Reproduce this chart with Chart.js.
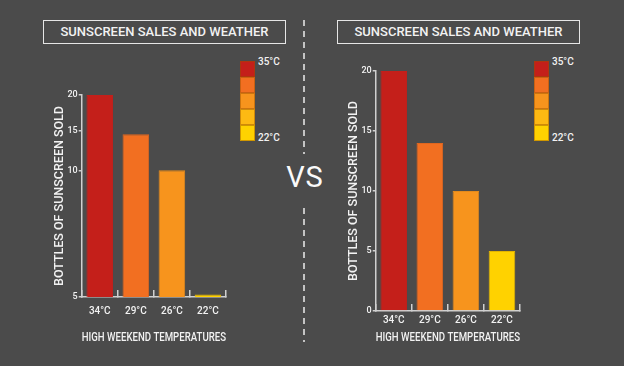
<!DOCTYPE html>
<html lang="en">
  <head>
    <meta charset="utf-8" />
    <title>Sunscreen sales and weather</title>
    <style>
      html, body { margin: 0; padding: 0; }
      body {
        width: 624px; height: 366px; overflow: hidden; position: relative;
        background: #4b4b4b; font-family: Roboto, "DejaVu Sans", sans-serif; color: #f2f2f2;
      }
      .box { position: absolute; }
      .title {
        position: absolute; top: 20px; width: 241px; height: 22px;
        border: 1.5px solid #e6e6e6; text-align: center; line-height: 22px;
        font-size: 13px; font-weight: 500;
      }
      .scale { position: absolute; width: 15px; }
      .scale div { box-sizing: border-box; height: 16px; border: 0.5px solid rgba(150, 80, 0, 0.45); }
      .scale span { position: absolute; left: 18px; font-size: 10px; font-weight: 500; }
      .dash { position: absolute; left: 303px; width: 2px;
        background: repeating-linear-gradient(#c4c4c4 0 6px, transparent 6px 11px); }
      .vs { position: absolute; left: 284px; top: 160px; width: 42px; text-align: center;
        font-size: 29px; letter-spacing: 1px; color: #fafafa; }
    </style>
  </head>
  <body>
    <div class="title" style="left: 43px">SUNSCREEN SALES AND WEATHER</div>
    <div class="title" style="left: 337px">SUNSCREEN SALES AND WEATHER</div>

    <div class="dash" style="top: 20px; height: 134px"></div>
    <div class="dash" style="top: 208px; height: 134px"></div>
    <div class="vs">VS</div>

    <div class="scale" id="scaleLeft" style="left: 240px; top: 61px"></div>
    <div class="scale" id="scaleRight" style="left: 534px; top: 61px"></div>

    <div class="box" style="left: 38px; top: 60px; width: 200px; height: 290px">
      <canvas id="left"></canvas>
    </div>
    <div class="box" style="left: 332px; top: 36px; width: 200px; height: 314px">
      <canvas id="right"></canvas>
    </div>

    <script src="https://cdn.jsdelivr.net/npm/chart.js"></script>

    <script>
      const temps = ["34°C", "29°C", "26°C", "22°C"];
      const salesLeft = [20, 14.6, 10, 5.1];
      const salesRight = [20, 14, 10, 5];
      const leftTicks = [5, 10, 15, 20];
      const rightTicks = [0, 5, 10, 15, 20];
      const barColors = ["#c41f1a", "#f26f21", "#f7941d", "#ffd200"];
      const barBorders = ["#c41f1a", "#e0661f", "#e38a1c", "#e3b400"];
      const scaleColors = ["#c41f1a", "#f26f21", "#f7941d", "#fdb913", "#ffd200"];
      const scaleLabels = ["35°C", "22°C"];

      // temperature key next to each chart
      ["scaleLeft", "scaleRight"].forEach(function (id) {
        const el = document.getElementById(id);
        scaleColors.forEach(function (c) {
          const cell = document.createElement("div");
          cell.style.background = c;
          el.appendChild(cell);
        });
        const hi = document.createElement("span");
        hi.textContent = scaleLabels[0];
        hi.style.top = "-5px";
        el.appendChild(hi);
        const lo = document.createElement("span");
        lo.textContent = scaleLabels[1];
        lo.style.top = "71px";
        el.appendChild(lo);
      });

      // linear scale made of pieces, so the left axis can be stretched like the original
      class PiecewiseScale extends Chart.LinearScale {
        getPixelForValue(value) {
          const stops = this.options.stops;
          let f = 0;
          for (let i = 1; i < stops.length; i++) {
            const a = stops[i - 1], b = stops[i];
            if (value <= b[0] || i === stops.length - 1) {
              f = a[1] + ((value - a[0]) / (b[0] - a[0])) * (b[1] - a[1]);
              break;
            }
          }
          return this.bottom - f * (this.bottom - this.top);
        }
        getValueForPixel(pixel) {
          const stops = this.options.stops;
          const f = (this.bottom - pixel) / (this.bottom - this.top);
          for (let i = 1; i < stops.length; i++) {
            const a = stops[i - 1], b = stops[i];
            if (f <= b[1] || i === stops.length - 1) {
              return a[0] + ((f - a[1]) / (b[1] - a[1])) * (b[0] - a[0]);
            }
          }
        }
      }
      PiecewiseScale.id = "piecewise";
      PiecewiseScale.defaults = Chart.LinearScale.defaults;
      Chart.register(PiecewiseScale);

      const axisColor = "#d0d0d0";
      const textColor = "#f2f2f2";
      const fontFamily = "Roboto, 'DejaVu Sans', sans-serif";

      function makeChart(id, values, yScale, padding, xTickPad, xTitlePad) {
        return new Chart(document.getElementById(id), {
          type: "bar",
          data: {
            labels: temps,
            datasets: [
              {
                data: values,
                backgroundColor: barColors,
                borderColor: barBorders,
                borderWidth: 1,
                minBarLength: 2,
                barPercentage: 0.82,
                categoryPercentage: 0.9,
              },
            ],
          },
          options: {
            responsive: true,
            maintainAspectRatio: false,
            animation: false,
            layout: { padding: padding },
            plugins: { legend: { display: false }, tooltip: { enabled: false } },
            scales: {
              x: {
                grid: { drawOnChartArea: false, color: axisColor, lineWidth: 1.5, tickLength: -7 },
                border: { color: axisColor, width: 1.5 },
                ticks: { color: textColor, font: { family: fontFamily, size: 10, weight: 500 }, padding: xTickPad },
                title: {
                  display: true,
                  text: "HIGH WEEKEND TEMPERATURES",
                  color: textColor,
                  font: { family: fontFamily, size: 12.5, weight: 500 },
                  padding: { top: xTitlePad, bottom: 0 },
                },
              },
              y: Object.assign(
                {
                  grid: { drawOnChartArea: false, color: axisColor, lineWidth: 1.5, tickLength: 3 },
                  border: { color: axisColor, width: 1.5 },
                  ticks: { color: textColor, font: { family: fontFamily, size: 9, weight: 500 }, padding: 1 },
                  title: {
                    display: true,
                    text: "BOTTLES OF SUNSCREEN SOLD",
                    color: textColor,
                    font: { family: fontFamily, size: 12.5, weight: 500, lineHeight: 1 },
                    padding: { top: 0, bottom: 0 },
                  },
                },
                yScale
              ),
            },
          },
        });
      }

      makeChart(
        "left",
        salesLeft,
        {
          type: "piecewise",
          min: leftTicks[0],
          max: leftTicks[leftTicks.length - 1],
          stops: [[5, 0], [10, 0.627], [15, 0.821], [20, 1]],
          afterBuildTicks: function (s) {
            s.ticks = leftTicks.map(function (v) { return { value: v }; });
          },
        },
        { top: 35, right: 12, bottom: 5, left: 16 },
        15,
        -2
      );

      makeChart(
        "right",
        salesRight,
        {
          min: rightTicks[0],
          max: rightTicks[rightTicks.length - 1],
          afterBuildTicks: function (s) {
            s.ticks = rightTicks.map(function (v) { return { value: v }; });
          },
        },
        { top: 35, right: 12, bottom: 5, left: 16 },
        10,
        -6
      );
    </script>
  </body>
</html>
